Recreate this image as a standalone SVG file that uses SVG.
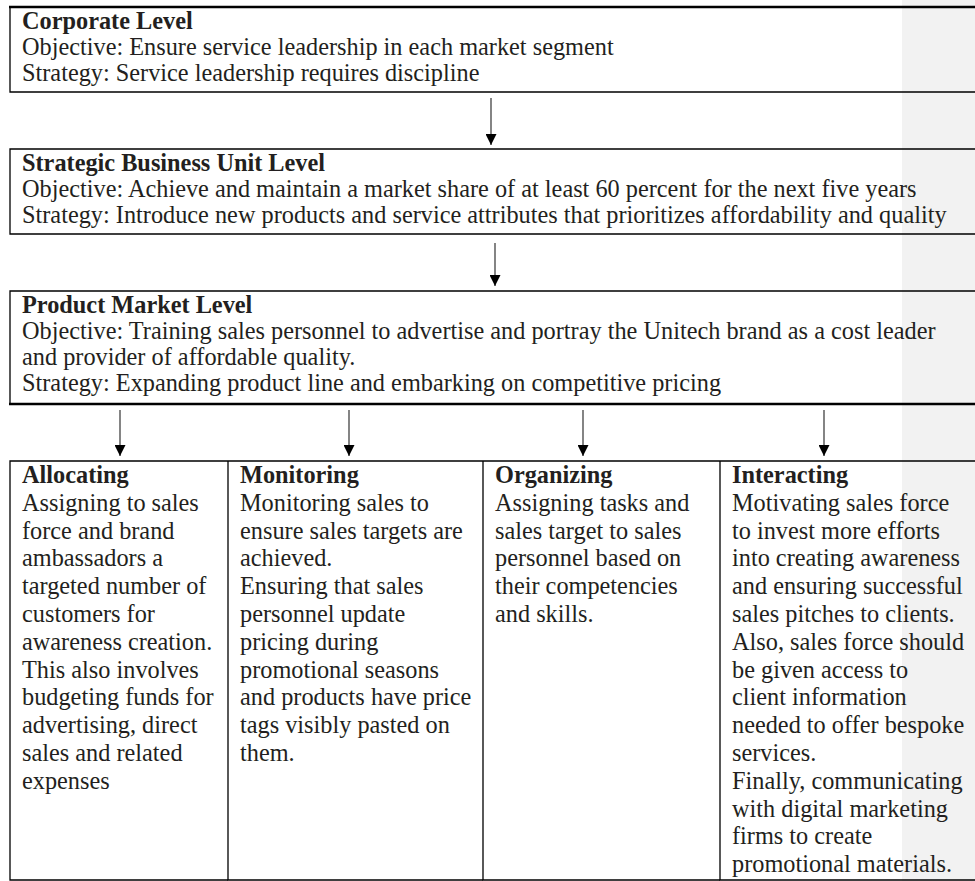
<svg xmlns="http://www.w3.org/2000/svg" width="975" height="881" viewBox="0 0 975 881">
<defs>
<style>
text{font-family:"Liberation Serif","Times New Roman",serif;font-size:24.3px;fill:#231f20}
.h{font-weight:bold}
.box{fill:none;stroke:#000;stroke-width:1.3}
.thick{stroke:#000;stroke-width:2.5}
.conn{stroke:#333;stroke-width:1.2}
</style>
<marker id="ah" viewBox="0 0 10 10" refX="10" refY="5" markerWidth="11" markerHeight="11" markerUnits="userSpaceOnUse" orient="auto">
<path d="M0,0 L10,5 L0,10 Z" fill="#000"/>
</marker>
</defs>
<rect x="902" y="0" width="73" height="881" fill="#f2f2f2"/>
<g id="corporate">
<path class="box" d="M985,92 H10 V7"/>
<line class="thick" x1="9" y1="7" x2="985" y2="7"/>
<text x="22" y="29"><tspan class="h">Corporate Level</tspan><tspan x="22" dy="26">Objective: Ensure service leadership in each market segment</tspan><tspan x="22" dy="26">Strategy: Service leadership requires discipline</tspan></text>
</g>
<g id="sbu">
<path class="box" d="M985,149 H10 V234 H985"/>
<text x="22" y="171"><tspan class="h">Strategic Business Unit Level</tspan><tspan x="22" dy="26">Objective: Achieve and maintain a market share of at least 60 percent for the next five years</tspan><tspan x="22" dy="26">Strategy: Introduce new products and service attributes that prioritizes affordability and quality</tspan></text>
</g>
<g id="product">
<path class="box" d="M985,291 H10 V404"/>
<line class="thick" x1="9" y1="404" x2="985" y2="404"/>
<text x="22" y="313"><tspan class="h">Product Market Level</tspan><tspan x="22" dy="26">Objective: Training sales personnel to advertise and portray the Unitech brand as a cost leader</tspan><tspan x="22" dy="26">and provider of affordable quality.</tspan><tspan x="22" dy="26">Strategy: Expanding product line and embarking on competitive pricing</tspan></text>
</g>
<g id="allocating">
<path class="box" d="M228,461 H10 V880 H228"/>
<text x="22" y="483"><tspan class="h">Allocating</tspan><tspan x="22" dy="27.8">Assigning to sales</tspan><tspan x="22" dy="27.8">force and brand</tspan><tspan x="22" dy="27.8">ambassadors a</tspan><tspan x="22" dy="27.8">targeted number of</tspan><tspan x="22" dy="27.8">customers for</tspan><tspan x="22" dy="27.8">awareness creation.</tspan><tspan x="22" dy="27.8">This also involves</tspan><tspan x="22" dy="27.8">budgeting funds for</tspan><tspan x="22" dy="27.8">advertising, direct</tspan><tspan x="22" dy="27.8">sales and related</tspan><tspan x="22" dy="27.8">expenses</tspan></text>
</g>
<g id="monitoring">
<path class="box" d="M228,461 H483 M228,461 V880 H483"/>
<text x="240" y="483"><tspan class="h">Monitoring</tspan><tspan x="240" dy="27.8">Monitoring sales to</tspan><tspan x="240" dy="27.8">ensure sales targets are</tspan><tspan x="240" dy="27.8">achieved.</tspan><tspan x="240" dy="27.8">Ensuring that sales</tspan><tspan x="240" dy="27.8">personnel update</tspan><tspan x="240" dy="27.8">pricing during</tspan><tspan x="240" dy="27.8">promotional seasons</tspan><tspan x="240" dy="27.8">and products have price</tspan><tspan x="240" dy="27.8">tags visibly pasted on</tspan><tspan x="240" dy="27.8">them.</tspan></text>
</g>
<g id="organizing">
<path class="box" d="M483,461 H720 M483,461 V880 H720"/>
<text x="495" y="483"><tspan class="h">Organizing</tspan><tspan x="495" dy="27.8">Assigning tasks and</tspan><tspan x="495" dy="27.8">sales target to sales</tspan><tspan x="495" dy="27.8">personnel based on</tspan><tspan x="495" dy="27.8">their competencies</tspan><tspan x="495" dy="27.8">and skills.</tspan></text>
</g>
<g id="interacting">
<path class="box" d="M720,461 H985 M720,461 V880 H985"/>
<text x="732" y="483"><tspan class="h">Interacting</tspan><tspan x="732" dy="27.8">Motivating sales force</tspan><tspan x="732" dy="27.8">to invest more efforts</tspan><tspan x="732" dy="27.8">into creating awareness</tspan><tspan x="732" dy="27.8">and ensuring successful</tspan><tspan x="732" dy="27.8">sales pitches to clients.</tspan><tspan x="732" dy="27.8">Also, sales force should</tspan><tspan x="732" dy="27.8">be given access to</tspan><tspan x="732" dy="27.8">client information</tspan><tspan x="732" dy="27.8">needed to offer bespoke</tspan><tspan x="732" dy="27.8">services.</tspan><tspan x="732" dy="27.8">Finally, communicating</tspan><tspan x="732" dy="27.8">with digital marketing</tspan><tspan x="732" dy="27.8">firms to create</tspan><tspan x="732" dy="27.8">promotional materials.</tspan></text>
</g>
<g id="connectors">
<line class="conn" x1="491" y1="98" x2="491" y2="145" marker-end="url(#ah)"/>
<line class="conn" x1="495" y1="243" x2="495" y2="286" marker-end="url(#ah)"/>
<line class="conn" x1="120" y1="410" x2="120" y2="456" marker-end="url(#ah)"/>
<line class="conn" x1="349" y1="410" x2="349" y2="456" marker-end="url(#ah)"/>
<line class="conn" x1="583" y1="410" x2="583" y2="456" marker-end="url(#ah)"/>
<line class="conn" x1="824" y1="410" x2="824" y2="456" marker-end="url(#ah)"/>
</g>
</svg>
